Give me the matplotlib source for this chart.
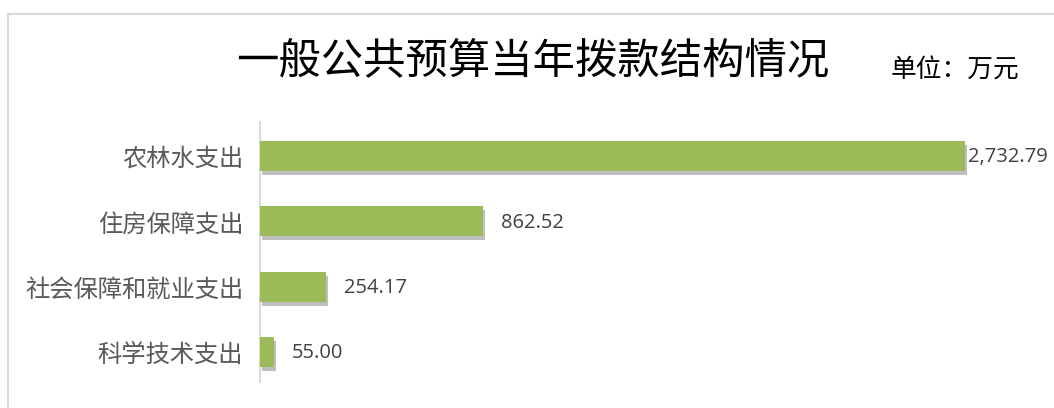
import matplotlib.pyplot as plt
import matplotlib.patheffects as pe
from matplotlib.patches import Rectangle

plt.rcParams['font.family'] = ['Noto Sans CJK SC', 'DejaVu Sans']

# data
categories = ['农林水支出', '住房保障支出', '社会保障和就业支出', '科学技术支出']
values = [2732.79, 862.52, 254.17, 55.00]
title = '一般公共预算当年拨款结构情况'
unit = '单位：万元'

fig = plt.figure(figsize=(10.54, 4.08), dpi=100)
ax = fig.add_axes([260 / 1054, 1 - 382 / 408, 740 / 1054, 260 / 408])

bars = ax.barh(range(len(values)), values, height=0.46, color='#9BBB59', zorder=3)
for b in bars:
    b.set_path_effects([pe.SimplePatchShadow(offset=(1.5, -3), shadow_rgbFace='#7f7f7f', alpha=0.5),
                        pe.Normal()])

ax.set_xlim(0, 2868)
ax.set_ylim(3.46, -0.52)
ax.set_yticks(range(len(categories)), labels=categories)
ax.tick_params(axis='y', length=0, pad=12, labelsize=17.5, labelcolor='#595959')
ax.set_xticks([])
for s in ['top', 'right', 'bottom']:
    ax.spines[s].set_visible(False)
ax.spines['left'].set_color('#D9D9D9')
ax.spines['left'].set_linewidth(1.5)

# data labels
for i, v in enumerate(values):
    off = 2 if i == 0 else 13
    ax.annotate(f'{v:,.2f}', (v, i), xytext=(off, -1), textcoords='offset points',
                va='center', ha='left', fontsize=14.5, color='#404040',
                family=['Open Sans', 'DejaVu Sans'], annotation_clip=False)

fig.text(533 / 1054, 1 - 62 / 408, title, ha='center', va='center', fontsize=30.5, color='#000000')
fig.text(955 / 1054, 1 - 71 / 408, unit, ha='center', va='center', fontsize=18.5, color='#000000')

# chart border
fig.patches.append(Rectangle((8 / 1054, -0.1), 1.2, 1.1 - 14 / 408, transform=fig.transFigure,
                             fill=False, edgecolor='#D9D9D9', linewidth=1.5))

fig.savefig('out.png', dpi=100)
